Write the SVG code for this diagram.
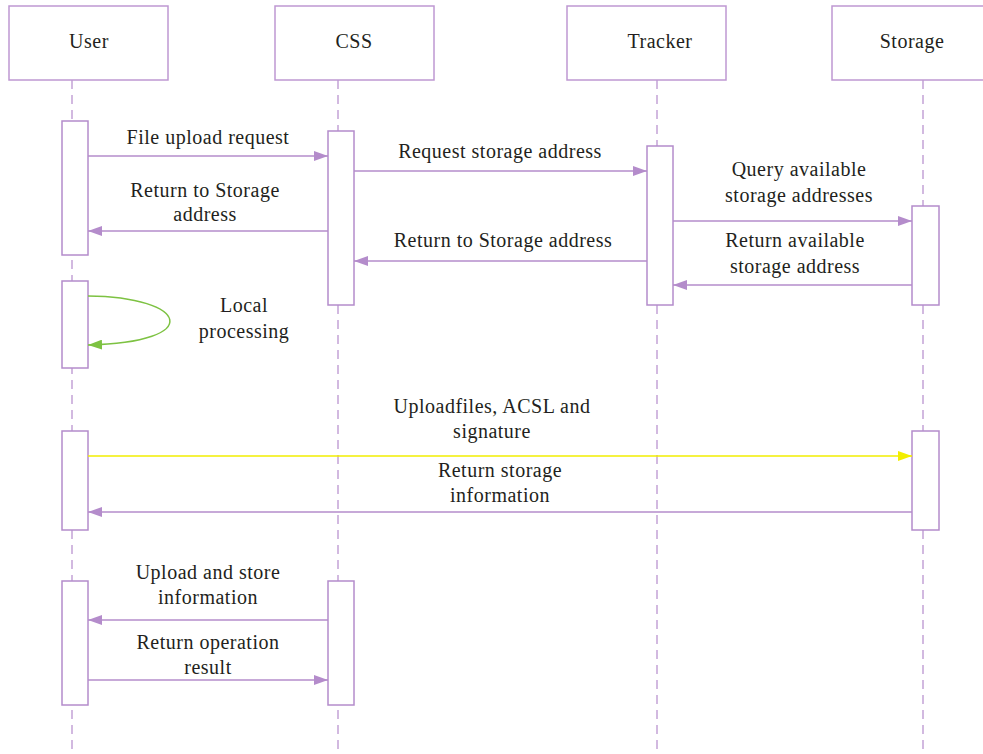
<svg xmlns="http://www.w3.org/2000/svg" width="983" height="754" viewBox="0 0 983 754">
  <style>
    .box { fill: #ffffff; stroke: #be98d2; stroke-width: 1.5; }
    .life { stroke: #c4a3d6; stroke-width: 1.5; stroke-dasharray: 9 6; fill: none; }
    .act { fill: #ffffff; stroke: #b48ccb; stroke-width: 1.5; }
    .msg { stroke: #b48ccb; stroke-width: 1.5; fill: none; }
    .label { font-family: "Liberation Serif", "Times New Roman", serif; font-size: 20px; letter-spacing: 0.5px; fill: #231f20; text-anchor: middle; }
  </style>
  <defs>
    <marker id="ah" viewBox="0 0 14 10" refX="14" refY="5" markerWidth="14" markerHeight="10" markerUnits="userSpaceOnUse" orient="auto">
      <path d="M0,0 L14,5 L0,10 Z" fill="#b48ccb"/>
    </marker>
    <marker id="ah-green" viewBox="0 0 14 10" refX="14" refY="5" markerWidth="14" markerHeight="10" markerUnits="userSpaceOnUse" orient="auto">
      <path d="M0,0 L14,5 L0,10 Z" fill="#7dc242"/>
    </marker>
    <marker id="ah-yellow" viewBox="0 0 14 10" refX="14" refY="5" markerWidth="14" markerHeight="10" markerUnits="userSpaceOnUse" orient="auto">
      <path d="M0,0 L14,5 L0,10 Z" fill="#f2ee00"/>
    </marker>
  </defs>

  <rect width="983" height="754" fill="#ffffff"/>

  <!-- participants with lifelines -->
  <g id="user">
    <line class="life" x1="72" y1="80" x2="72" y2="754"/>
    <rect class="box" x="9" y="6" width="159" height="74"/>
    <text class="label" x="89" y="48">User</text>
  </g>
  <g id="css">
    <line class="life" x1="338" y1="80" x2="338" y2="754"/>
    <rect class="box" x="275" y="6" width="159" height="74"/>
    <text class="label" x="354" y="48">CSS</text>
  </g>
  <g id="tracker">
    <line class="life" x1="657" y1="80" x2="657" y2="754"/>
    <rect class="box" x="567" y="6" width="159" height="74"/>
    <text class="label" x="660" y="48">Tracker</text>
  </g>
  <g id="storage">
    <line class="life" x1="923" y1="80" x2="923" y2="754"/>
    <rect class="box" x="832" y="6" width="160" height="74"/>
    <text class="label" x="912" y="48">Storage</text>
  </g>

  <!-- activation bars -->
  <g id="activations">
    <rect class="act" x="62" y="121" width="26" height="134"/>
    <rect class="act" x="62" y="281" width="26" height="87"/>
    <rect class="act" x="62" y="431" width="26" height="99"/>
    <rect class="act" x="62" y="581" width="26" height="124"/>
    <rect class="act" x="328" y="131" width="26" height="174"/>
    <rect class="act" x="328" y="581" width="26" height="124"/>
    <rect class="act" x="647" y="146" width="26" height="159"/>
    <rect class="act" x="912" y="206" width="27" height="99"/>
    <rect class="act" x="912" y="431" width="27" height="99"/>
  </g>

  <!-- messages -->
  <g id="connectors">
    <line class="msg" x1="88" y1="156" x2="328" y2="156" marker-end="url(#ah)"/>
    <line class="msg" x1="328" y1="231" x2="88" y2="231" marker-end="url(#ah)"/>
    <line class="msg" x1="354" y1="171" x2="647" y2="171" marker-end="url(#ah)"/>
    <line class="msg" x1="647" y1="261" x2="354" y2="261" marker-end="url(#ah)"/>
    <line class="msg" x1="673" y1="221" x2="912" y2="221" marker-end="url(#ah)"/>
    <line class="msg" x1="912" y1="285" x2="673" y2="285" marker-end="url(#ah)"/>
    <path d="M88,296 C188,297 206,342 88,345" fill="none" stroke="#7dc242" stroke-width="1.5" marker-end="url(#ah-green)"/>
    <line x1="88" y1="456" x2="912" y2="456" stroke="#f2ee00" stroke-width="1.5" marker-end="url(#ah-yellow)"/>
    <line class="msg" x1="912" y1="512" x2="88" y2="512" marker-end="url(#ah)"/>
    <line class="msg" x1="328" y1="620" x2="88" y2="620" marker-end="url(#ah)"/>
    <line class="msg" x1="88" y1="680" x2="328" y2="680" marker-end="url(#ah)"/>
  </g>

  <!-- message labels -->
  <g id="labels">
    <text class="label" x="208" y="144">File upload request</text>
    <text class="label" x="205" y="197">Return to Storage</text>
    <text class="label" x="205" y="221">address</text>
    <text class="label" x="500" y="158">Request storage address</text>
    <text class="label" x="503" y="247">Return to Storage address</text>
    <text class="label" x="799" y="176">Query available</text>
    <text class="label" x="799" y="202">storage addresses</text>
    <text class="label" x="795" y="247">Return available</text>
    <text class="label" x="795" y="273">storage address</text>
    <text class="label" x="244" y="312">Local</text>
    <text class="label" x="244" y="338">processing</text>
    <text class="label" x="492" y="413">Uploadfiles, ACSL and</text>
    <text class="label" x="492" y="438">signature</text>
    <text class="label" x="500" y="477">Return storage</text>
    <text class="label" x="500" y="502">information</text>
    <text class="label" x="208" y="579">Upload and store</text>
    <text class="label" x="208" y="604">information</text>
    <text class="label" x="208" y="649">Return operation</text>
    <text class="label" x="208" y="674">result</text>
  </g>
</svg>
